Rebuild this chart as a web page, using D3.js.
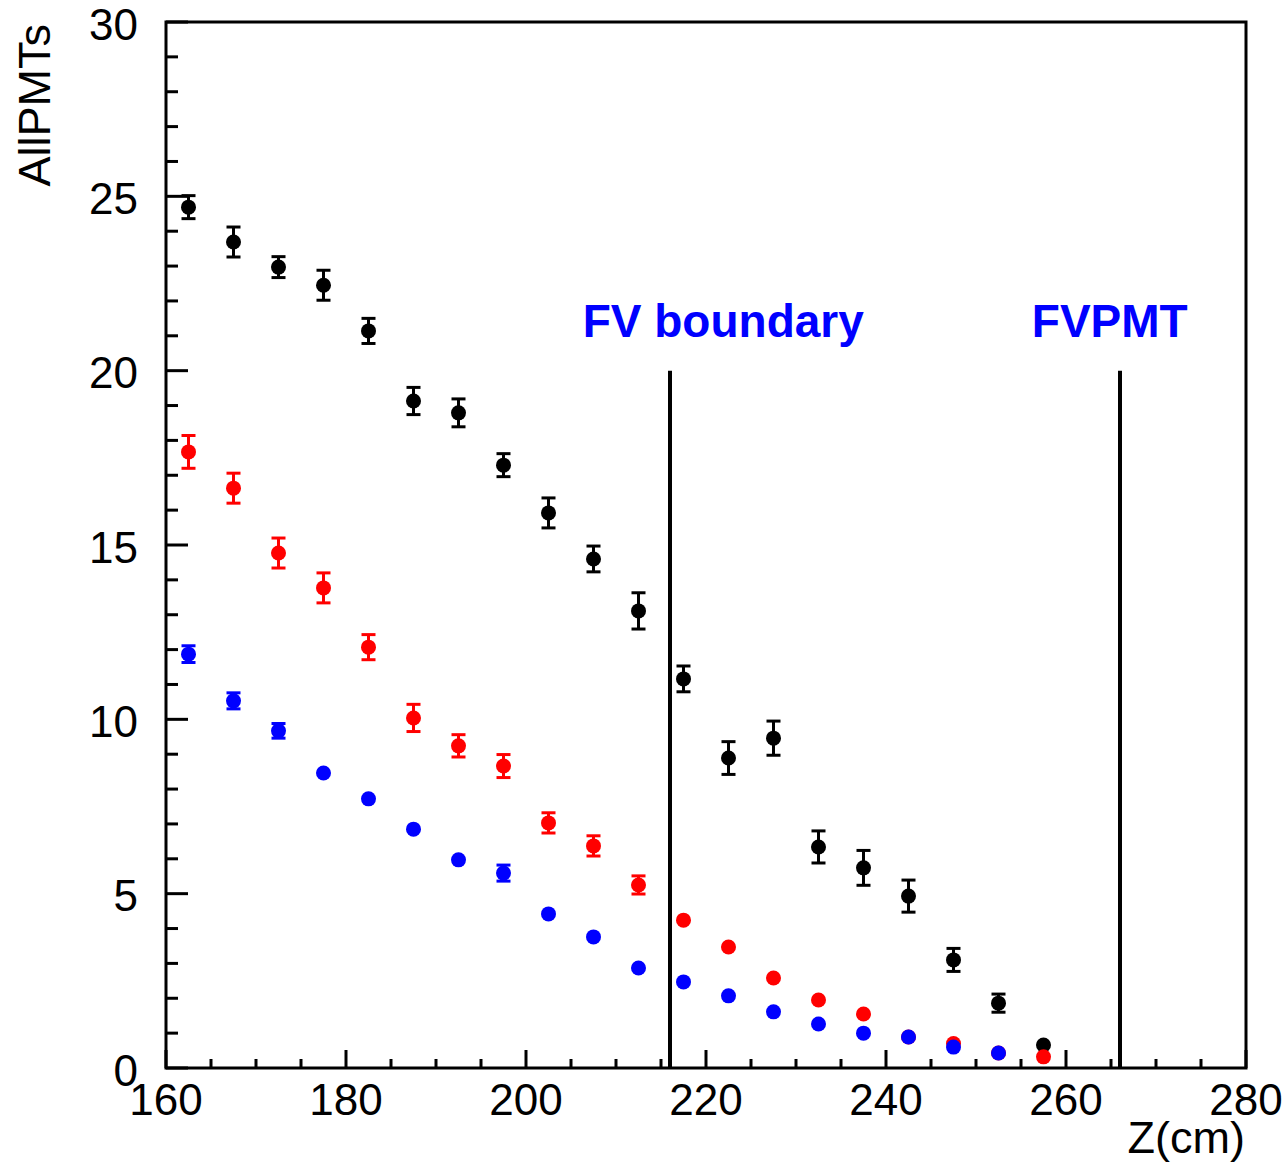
<!DOCTYPE html>
<html>
<head>
<meta charset="utf-8">
<script src="https://cdn.jsdelivr.net/npm/d3@7.9.0/dist/d3.min.js"></script>
<style>
  html, body { margin: 0; padding: 0; background: #fff; }
  svg { display: block; font-family: 'Liberation Sans', Arial, Helvetica, sans-serif; }
</style>
</head>
<body>
<svg id="chart" width="1287" height="1163"></svg>
<script>
// bin centres along Z (cm)
const zBins = [162.5, 167.5, 172.5, 177.5, 182.5, 187.5, 192.5, 197.5, 202.5, 207.5,
               212.5, 217.5, 222.5, 227.5, 232.5, 237.5, 242.5, 247.5, 252.5, 257.5];

const blackVals = [24.69, 23.69, 22.97, 22.45, 21.14, 19.13, 18.79, 17.29, 15.92, 14.60,
                   13.11, 11.16, 8.89, 9.46, 6.34, 5.74, 4.93, 3.10, 1.86, 0.66];
const blackErrs = [0.33, 0.43, 0.30, 0.43, 0.36, 0.39, 0.40, 0.33, 0.43, 0.37,
                   0.52, 0.37, 0.47, 0.49, 0.46, 0.50, 0.46, 0.33, 0.26, 0];

const redVals = [17.67, 16.63, 14.77, 13.77, 12.07, 10.04, 9.24, 8.66, 7.03, 6.37,
                 5.25, 4.24, 3.47, 2.58, 1.95, 1.55, 0.89, 0.70, 0.43, 0.32];
const redErrs = [0.47, 0.43, 0.43, 0.43, 0.36, 0.39, 0.32, 0.33, 0.29, 0.29,
                 0.26, 0, 0, 0, 0, 0, 0, 0, 0, 0];

const blueVals = [11.87, 10.53, 9.67, 8.46, 7.72, 6.85, 5.97, 5.59, 4.42, 3.76,
                  2.87, 2.47, 2.07, 1.61, 1.26, 1.00, 0.89, 0.60, 0.43, null];
const blueErrs = [0.24, 0.23, 0.21, 0, 0, 0, 0, 0.23, 0, 0,
                  0, 0, 0, 0, 0, 0, 0, 0, 0, 0];

const xTicks = [160, 180, 200, 220, 240, 260, 280];
const yTicks = [0, 5, 10, 15, 20, 25, 30];

// vertical markers: z position, top value, label, label start z
const markerZ = [216, 266];
const markerLabels = ['FV boundary', 'FVPMT'];
const markerLabelZ = [206.3, 256.2];
const markerTop = 20;

const series = [
  { vals: blackVals, errs: blackErrs, color: '#000000' },
  { vals: redVals, errs: redErrs, color: '#ff0000' },
  { vals: blueVals, errs: blueErrs, color: '#0000ff' },
];

const margin = { left: 166, right: 41, top: 22, bottom: 95 };
const W = 1287, H = 1163;
const innerW = W - margin.left - margin.right;
const innerH = H - margin.top - margin.bottom;

const svg = d3.select('#chart');
const g = svg.append('g').attr('transform', `translate(${margin.left},${margin.top})`);

const x = d3.scaleLinear().domain([160, 280]).range([0, innerW]);
const y = d3.scaleLinear().domain([0, 30]).range([innerH, 0]);

// frame
g.append('rect')
  .attr('x', 0).attr('y', 0)
  .attr('width', innerW).attr('height', innerH)
  .attr('fill', 'none').attr('stroke', '#000').attr('stroke-width', 3);

// y ticks (inward)
const yMinor = d3.range(0, 31, 1);
g.selectAll('.ytick')
  .data(yMinor)
  .join('line')
  .attr('x1', 0)
  .attr('x2', (d) => (d % 5 === 0 ? 22 : 12))
  .attr('y1', (d) => y(d)).attr('y2', (d) => y(d))
  .attr('stroke', '#000').attr('stroke-width', 3);

// x ticks (inward)
const xMinor = d3.range(160, 281, 5);
g.selectAll('.xtick')
  .data(xMinor)
  .join('line')
  .attr('x1', (d) => x(d)).attr('x2', (d) => x(d))
  .attr('y1', innerH)
  .attr('y2', (d) => innerH - (d % 20 === 0 ? 18 : 9))
  .attr('stroke', '#000').attr('stroke-width', 3);

// tick labels
g.selectAll('.ylab')
  .data(yTicks)
  .join('text')
  .attr('x', -28)
  .attr('y', (d) => y(d))
  .attr('dy', '0.4em')
  .attr('text-anchor', 'end')
  .attr('font-size', 44)
  .text((d) => d);

g.selectAll('.xlab')
  .data(xTicks)
  .join('text')
  .attr('x', (d) => x(d))
  .attr('y', innerH + 47)
  .attr('text-anchor', 'middle')
  .attr('font-size', 44)
  .text((d) => d);

// axis titles
svg.append('text')
  .attr('x', W - 42).attr('y', 1153)
  .attr('text-anchor', 'end')
  .attr('font-size', 45)
  .text('Z(cm)');

svg.append('text')
  .attr('transform', 'translate(50,24) rotate(-90)')
  .attr('text-anchor', 'end')
  .attr('font-size', 45)
  .text('AllPMTs');

// vertical marker lines
g.selectAll('.marker')
  .data(markerZ)
  .join('line')
  .attr('x1', (d) => x(d)).attr('x2', (d) => x(d))
  .attr('y1', y(markerTop)).attr('y2', innerH)
  .attr('stroke', '#000').attr('stroke-width', 4);

g.selectAll('.mlabel')
  .data(markerLabels)
  .join('text')
  .attr('x', (d, i) => x(markerLabelZ[i]))
  .attr('y', 315)
  .attr('font-size', 46)
  .attr('font-weight', 'bold')
  .attr('fill', '#0000ff')
  .text((d) => d);

// data points with error bars
const capW = 7;
const r = 7.5;
series.forEach((s) => {
  const pts = zBins
    .map((z, i) => ({ z, v: s.vals[i], e: s.errs[i] }))
    .filter((p) => p.v !== null);
  const grp = g.append('g');
  const withErr = pts.filter((p) => p.e > 0);
  grp.selectAll('.bar')
    .data(withErr)
    .join('line')
    .attr('x1', (d) => x(d.z)).attr('x2', (d) => x(d.z))
    .attr('y1', (d) => y(d.v + d.e)).attr('y2', (d) => y(d.v - d.e))
    .attr('stroke', s.color).attr('stroke-width', 3);
  grp.selectAll('.capt')
    .data(withErr)
    .join('line')
    .attr('x1', (d) => x(d.z) - capW).attr('x2', (d) => x(d.z) + capW)
    .attr('y1', (d) => y(d.v + d.e)).attr('y2', (d) => y(d.v + d.e))
    .attr('stroke', s.color).attr('stroke-width', 3);
  grp.selectAll('.capb')
    .data(withErr)
    .join('line')
    .attr('x1', (d) => x(d.z) - capW).attr('x2', (d) => x(d.z) + capW)
    .attr('y1', (d) => y(d.v - d.e)).attr('y2', (d) => y(d.v - d.e))
    .attr('stroke', s.color).attr('stroke-width', 3);
  grp.selectAll('circle')
    .data(pts)
    .join('circle')
    .attr('cx', (d) => x(d.z))
    .attr('cy', (d) => y(d.v))
    .attr('r', r)
    .attr('fill', s.color);
});
</script>
</body>
</html>
